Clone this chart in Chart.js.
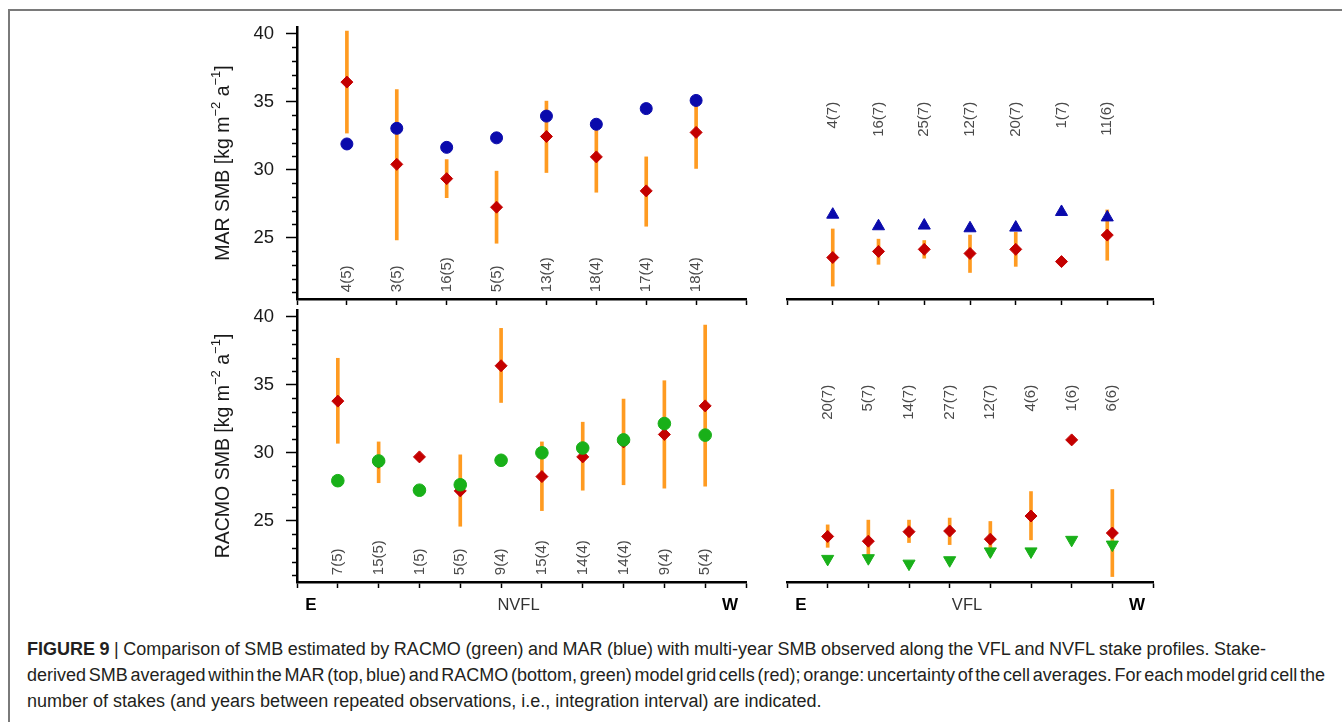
<!DOCTYPE html>
<html>
<head>
<meta charset="utf-8">
<script src="https://cdn.jsdelivr.net/npm/chart.js@4.4.1/dist/chart.umd.min.js"></script>
<style>
  html, body { margin: 0; padding: 0; background: #fff; width: 1342px; height: 722px; overflow: hidden; }
  #frame { position: absolute; left: 8px; top: 9px; width: 1400px; height: 800px;
           border-left: 2px solid #7a7a7a; border-top: 2px solid #7a7a7a; }
  canvas { position: absolute; }
  .cap { position: absolute; left: 27px; white-space: nowrap; color: #231f20; line-height: 26px;
         font-family: "Liberation Sans", Arial, sans-serif; font-size: 16px; }
</style>
</head>
<body>
<div id="frame"></div>
<canvas id="marNvfl" style="left:180px;top:14px" width="580" height="294"></canvas>
<canvas id="marVfl" style="left:760px;top:14px" width="420" height="294"></canvas>
<canvas id="racmoNvfl" style="left:180px;top:308px" width="580" height="310"></canvas>
<canvas id="racmoVfl" style="left:760px;top:308px" width="420" height="310"></canvas>

<div class="cap" style="top:636px"><b>FIGURE 9</b> | Comparison of SMB estimated by RACMO (green) and MAR (blue) with multi-year SMB observed along the VFL and NVFL stake profiles. Stake-</div>
<div class="cap" style="top:662px">derived SMB averaged within the MAR (top, blue) and RACMO (bottom, green) model grid cells (red); orange: uncertainty of the cell averages. For each model grid cell the</div>
<div class="cap" style="top:688px">number of stakes (and years between repeated observations, i.e., integration interval) are indicated.</div>

<script>
const FONT = '"Liberation Sans", Arial, sans-serif';
Chart.defaults.font.family = FONT;

// ---- data: MAR vs NVFL (top left) ----
const marNvflCounts = ['4(5)', '3(5)', '16(5)', '5(5)', '13(4)', '18(4)', '17(4)', '18(4)'];
const marNvflModel = [31.9, 33.05, 31.65, 32.35, 33.95, 33.35, 34.5, 35.1];
const marNvflObs = [36.45, 30.4, 29.35, 27.25, 32.45, 30.95, 28.45, 32.75];
const marNvflLow = [32.7, 24.85, 27.95, 24.6, 29.8, 28.35, 25.85, 30.1];
const marNvflHigh = [40.2, 35.9, 30.75, 29.9, 35.05, 33.5, 30.95, 35.4];

// ---- data: MAR vs VFL (top right) ----
const marVflCounts = ['4(7)', '16(7)', '25(7)', '12(7)', '20(7)', '1(7)', '11(6)'];
const marVflModel = [26.7, 25.85, 25.9, 25.7, 25.75, 26.9, 26.5];
const marVflObs = [23.55, 24.0, 24.15, 23.85, 24.15, 23.25, 25.2];
const marVflLow = [21.45, 23.05, 23.5, 22.45, 22.9, null, 23.35];
const marVflHigh = [25.65, 24.9, 24.8, 25.2, 25.4, null, 27.05];

// ---- data: RACMO vs NVFL (bottom left) ----
const racmoNvflCounts = ['7(5)', '15(5)', '1(5)', '5(5)', '9(4)', '15(4)', '14(4)', '14(4)', '9(4)', '5(4)'];
const racmoNvflModel = [27.95, 29.4, 27.25, 27.65, 29.45, 30.0, 30.35, 30.95, 32.15, 31.3];
const racmoNvflObs = [33.8, 29.3, 29.7, 27.2, 36.4, 28.25, 29.7, 30.8, 31.35, 33.45];
const racmoNvflLow = [30.7, 27.8, null, 24.6, 33.7, 25.75, 27.25, 27.65, 27.4, 27.55];
const racmoNvflHigh = [36.95, 30.8, null, 29.85, 39.15, 30.8, 32.25, 33.95, 35.3, 39.4];

// ---- data: RACMO vs VFL (bottom right) ----
const racmoVflCounts = ['20(7)', '5(7)', '14(7)', '27(7)', '12(7)', '4(6)', '1(6)', '6(6)'];
const racmoVflModel = [22.2, 22.25, 21.85, 22.1, 22.75, 22.75, 23.6, 23.25];
const racmoVflObs = [23.85, 23.5, 24.2, 24.25, 23.65, 25.35, 30.95, 24.1];
const racmoVflLow = [23.05, 22.45, 23.4, 23.25, 22.4, 23.6, null, 20.9];
const racmoVflHigh = [24.7, 25.05, 25.05, 25.2, 24.95, 27.15, null, 27.3];

// axis
const yRange = [20.5, 40.5];
const yMajorTicks = [25, 30, 35, 40];

const RED = '#c40000', ORANGE = '#ff9b21', BLUE = '#0a0aac', GREEN = '#19b019';

function smbTitle(model) {
  return [
    {t: model + ' SMB [kg m'}, {t: '\u22122', sup: true},
    {t: ' a'}, {t: '\u22121', sup: true}, {t: ']'}
  ];
}

/* ============================
   DECORATIONS PLUGIN
============================ */
const decorations = {
  id: 'decorations',
  afterDraw(chart, args, o) {
    const {ctx, chartArea: a} = chart;
    const xs = chart.scales.x, ys = chart.scales.y;

    // minor y ticks
    if (o.showY) {
      ctx.save();
      ctx.strokeStyle = '#000';
      ctx.lineWidth = 1.5;
      for (let v = Math.ceil(yRange[0]); v <= yRange[1]; v++) {
        if (yMajorTicks.includes(v)) continue;
        const py = Math.round(ys.getPixelForValue(v)) + 0.5;
        ctx.beginPath();
        ctx.moveTo(a.left - 5, py);
        ctx.lineTo(a.left, py);
        ctx.stroke();
      }
      ctx.restore();

      // y title with superscripts
      const parts = o.title;
      ctx.save();
      ctx.translate(a.left - 75, (a.top + a.bottom) / 2);
      ctx.rotate(-Math.PI / 2);
      ctx.fillStyle = '#1a1a1a';
      ctx.textBaseline = 'alphabetic';
      const fontOf = p => (p.sup ? '13px ' : '19.5px ') + FONT;
      let total = 0;
      parts.forEach(p => { ctx.font = fontOf(p); total += ctx.measureText(p.t).width; });
      let x = -total / 2;
      parts.forEach(p => {
        ctx.font = fontOf(p);
        ctx.fillText(p.t, x, p.sup ? -2.5 : 7);
        x += ctx.measureText(p.t).width;
      });
      ctx.restore();
    }

    // stake counts
    ctx.save();
    ctx.font = '15px ' + FONT;
    ctx.fillStyle = '#4a4a4a';
    o.counts.forEach((t, i) => {
      ctx.save();
      ctx.translate(xs.getPixelForValue(i + 1), ys.getPixelForValue(o.countAt));
      ctx.rotate(-Math.PI / 2);
      ctx.textAlign = o.countAlign;
      ctx.textBaseline = 'middle';
      ctx.fillText(t, 0, 0);
      ctx.restore();
    });
    ctx.restore();

    // profile labels under the bottom panels
    if (o.profile) {
      const py = a.bottom + 23;
      ctx.save();
      ctx.textAlign = 'center';
      ctx.textBaseline = 'middle';
      ctx.fillStyle = '#000';
      ctx.font = 'bold 17px ' + FONT;
      ctx.fillText('E', a.left + 14, py);
      ctx.fillText('W', a.right - 16, py);
      ctx.font = '16.5px ' + FONT;
      ctx.fillStyle = '#333';
      ctx.fillText(o.profile, (a.left + a.right) / 2 - 3, py);
      ctx.restore();
    }
  }
};

/* ============================
   PANELS
============================ */
function panel(id, p) {
  const n = p.counts.length;
  const xTicks = [];
  for (let i = 0; i <= n + 1; i++) xTicks.push(i);

  const bars = [];
  p.low.forEach((lo, i) => {
    if (lo !== null) bars.push({x: i + 1, y: [lo, p.high[i]]});
  });

  new Chart(document.getElementById(id), {
    type: 'scatter',
    data: {
      datasets: [
        {
          type: 'scatter',
          data: p.model.map((v, i) => ({x: i + 1, y: v})),
          pointStyle: p.style,
          rotation: p.rot,
          radius: p.radius,
          backgroundColor: p.color,
          borderColor: p.color,
          borderWidth: 1,
          order: 1,
          clip: false
        },
        {
          type: 'scatter',
          data: p.obs.map((v, i) => ({x: i + 1, y: v})),
          pointStyle: 'rectRot',
          radius: 6,
          backgroundColor: RED,
          borderColor: RED,
          borderWidth: 1,
          order: 2,
          clip: false
        },
        {
          type: 'bar',
          data: bars,
          backgroundColor: ORANGE,
          borderWidth: 0,
          barThickness: 3,
          grouped: false,
          order: 3,
          clip: false
        }
      ]
    },
    options: {
      responsive: false,
      animation: false,
      events: [],
      layout: {autoPadding: false, padding: p.pad},
      plugins: {
        legend: {display: false},
        tooltip: {enabled: false},
        decorations: {
          showY: p.showY, title: p.title, counts: p.counts,
          countAt: p.countAt, countAlign: p.countAlign, profile: p.profile
        }
      },
      scales: {
        x: {
          type: 'linear',
          min: 0,
          max: n + 1,
          offset: false,
          afterBuildTicks: s => { s.ticks = xTicks.map(v => ({value: v})); },
          afterFit: s => { s.height = p.xh; s.paddingLeft = 0; s.paddingRight = 0; },
          ticks: {display: false},
          grid: {drawOnChartArea: false, offset: false, tickLength: 6, tickWidth: 1.5, tickColor: '#000'},
          border: {display: true, color: '#000', width: 2.5}
        },
        y: {
          type: 'linear',
          min: yRange[0],
          max: yRange[1],
          beginAtZero: false,
          display: p.showY,
          afterBuildTicks: s => { s.ticks = yMajorTicks.map(v => ({value: v})); },
          afterFit: s => { s.width = p.showY ? p.yw : 0; s.paddingTop = 0; s.paddingBottom = 0; },
          ticks: {font: {size: 18.5}, color: '#1a1a1a', padding: 12},
          grid: {drawOnChartArea: false, tickLength: 11, tickWidth: 1.5, tickColor: '#000'},
          border: {display: true, color: '#000', width: 2.5}
        }
      }
    },
    plugins: [decorations]
  });
}

panel('marNvfl', {
  counts: marNvflCounts, model: marNvflModel, obs: marNvflObs, low: marNvflLow, high: marNvflHigh,
  color: BLUE, style: 'circle', rot: 0, radius: 6,
  showY: true, yw: 117, xh: 9, pad: {left: 0, right: 14, top: 13, bottom: 0},
  title: smbTitle('MAR'), countAt: 21, countAlign: 'left'
});
panel('marVfl', {
  counts: marVflCounts, model: marVflModel, obs: marVflObs, low: marVflLow, high: marVflHigh,
  color: BLUE, style: 'triangle', rot: 0, radius: 7,
  showY: false, yw: 0, xh: 9, pad: {left: 27, right: 27, top: 13, bottom: 0},
  countAt: 35, countAlign: 'right'
});
panel('racmoNvfl', {
  counts: racmoNvflCounts, model: racmoNvflModel, obs: racmoNvflObs, low: racmoNvflLow, high: racmoNvflHigh,
  color: GREEN, style: 'circle', rot: 0, radius: 6.3,
  showY: true, yw: 117, xh: 36, pad: {left: 0, right: 14, top: 2, bottom: 0},
  title: smbTitle('RACMO'), countAt: 21, countAlign: 'left', profile: 'NVFL'
});
panel('racmoVfl', {
  counts: racmoVflCounts, model: racmoVflModel, obs: racmoVflObs, low: racmoVflLow, high: racmoVflHigh,
  color: GREEN, style: 'triangle', rot: 180, radius: 7,
  showY: false, yw: 0, xh: 36, pad: {left: 27, right: 27, top: 2, bottom: 0},
  countAt: 35, countAlign: 'right', profile: 'VFL'
});

/* ============================
   CAPTION FIT
============================ */
const caps = document.querySelectorAll('.cap');
const w3 = caps[2].getBoundingClientRect().width;
const capSize = 16 * 795 / w3;
caps.forEach(c => { c.style.fontSize = capSize + 'px'; });
[1239, 1298].forEach((target, i) => {
  const el = caps[i];
  const spaces = (el.textContent.match(/ /g) || []).length;
  const w = el.getBoundingClientRect().width;
  el.style.wordSpacing = ((target - w) / spaces) + 'px';
});
</script>
</body>
</html>
